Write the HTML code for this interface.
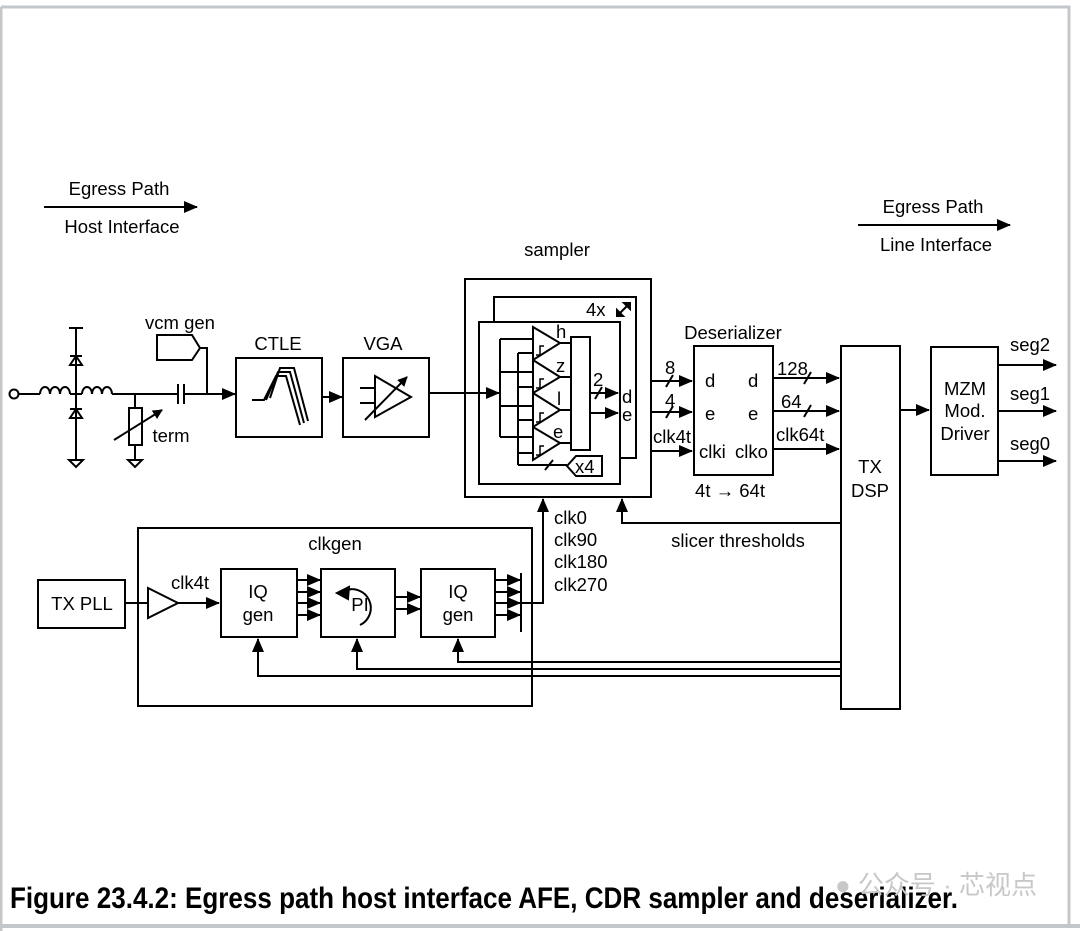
<!DOCTYPE html>
<html><head><meta charset="utf-8"><style>
html,body{margin:0;padding:0;background:#fff;}
svg{display:block;font-family:"Liberation Sans",Arial,sans-serif;}
</style></head><body>
<svg width="1080" height="931" viewBox="0 0 1080 931" xmlns="http://www.w3.org/2000/svg">
<defs>
<marker id="a" markerWidth="10" markerHeight="10" refX="9" refY="5" orient="auto" markerUnits="userSpaceOnUse"><path d="M0,0 L10,5 L0,10 z" fill="#000"/></marker>
<marker id="b" markerWidth="14" markerHeight="12" refX="13" refY="6" orient="auto" markerUnits="userSpaceOnUse"><path d="M0,0 L14,6 L0,12 z" fill="#000"/></marker>
</defs>
<rect x="0" y="0" width="1080" height="931" fill="#fff"/>
<path d="M1,7 H1069 V925" fill="none" stroke="#c4c7ca" stroke-width="3"/>
<line x1="1" y1="7" x2="1" y2="931" stroke="#c4c7ca" stroke-width="3"/>
<line x1="0" y1="926" x2="1080" y2="926" stroke="#c4c7ca" stroke-width="4"/>

<g font-size="18.5" fill="#000" text-anchor="middle">
<text x="119" y="195">Egress Path</text>
<text x="122" y="233">Host Interface</text>
<text x="933" y="213">Egress Path</text>
<text x="936" y="251">Line Interface</text>
<text x="557" y="256">sampler</text>
<text x="180" y="329">vcm gen</text>
<text x="278" y="350">CTLE</text>
<text x="383" y="350">VGA</text>
<text x="171" y="442">term</text>
<text x="733" y="339">Deserializer</text>
<text x="730" y="497">4t → 64t</text>
<text x="870" y="473">TX</text>
<text x="870" y="497">DSP</text>
<text x="965" y="395">MZM</text>
<text x="965" y="417">Mod.</text>
<text x="965" y="440">Driver</text>
<text x="1030" y="351">seg2</text>
<text x="1030" y="400">seg1</text>
<text x="1030" y="450">seg0</text>
<text x="738" y="547">slicer thresholds</text>
<text x="335" y="550">clkgen</text>
<text x="82" y="610">TX PLL</text>
<text x="190" y="589">clk4t</text>
<text x="258" y="598">IQ</text><text x="258" y="621">gen</text>
<text x="458" y="598">IQ</text><text x="458" y="621">gen</text>
<text x="360" y="611">PI</text>
</g>
<g font-size="18.5" fill="#000">
<text x="554" y="524">clk0</text>
<text x="554" y="546">clk90</text>
<text x="554" y="568">clk180</text>
<text x="554" y="591">clk270</text>
<text x="705" y="387">d</text><text x="748" y="387">d</text>
<text x="705" y="420">e</text><text x="748" y="420">e</text>
<text x="699" y="458">clki</text><text x="735" y="458">clko</text>
<text x="665" y="374">8</text>
<text x="665" y="407">4</text>
<text x="653" y="443">clk4t</text>
<text x="777" y="375">128</text>
<text x="781" y="408">64</text>
<text x="776" y="441">clk64t</text>
<text x="622" y="403">d</text>
<text x="622" y="421">e</text>
<text x="593" y="386">2</text>
<text x="586" y="316">4x</text>
<text x="556" y="338">h</text>
<text x="556" y="372">z</text>
<text x="557" y="405">l</text>
<text x="553" y="438">e</text>
<text x="575" y="473">x4</text>
</g>

<g fill="none" stroke="#000" stroke-width="2">
<line x1="44" y1="207" x2="197" y2="207" marker-end="url(#b)"/>
<line x1="858" y1="225" x2="1010" y2="225" marker-end="url(#b)"/>
<circle cx="14" cy="394" r="4.5"/>
<line x1="19" y1="394" x2="40" y2="394"/>
<path d="M40,394 a5,7 0 1 1 10,0 a5,7 0 1 1 10,0 a5,7 0 1 1 10,0"/>
<line x1="70" y1="394" x2="82" y2="394"/>
<path d="M82,394 a5,7 0 1 1 10,0 a5,7 0 1 1 10,0 a5,7 0 1 1 10,0"/>
<line x1="112" y1="394" x2="178" y2="394"/>
<line x1="76" y1="328" x2="76" y2="460"/>
<line x1="69" y1="328" x2="83" y2="328"/>
<path d="M70,365 L82,365 L76,356 z M70,356 H82"/>
<path d="M70,418 L82,418 L76,409 z M70,409 H82"/>
<path d="M69,460 H83 L76,467 z"/>
<line x1="135" y1="394" x2="135" y2="408"/>
<rect x="129" y="408" width="13" height="37"/>
<line x1="135" y1="445" x2="135" y2="460"/>
<path d="M128,460 H142 L135,467 z"/>
<line x1="114" y1="440" x2="162" y2="410" marker-end="url(#a)"/>
<line x1="178" y1="384" x2="178" y2="404"/><line x1="184" y1="384" x2="184" y2="404"/>
<line x1="184" y1="394" x2="235" y2="394" marker-end="url(#b)"/>
<path d="M157,335 H192 L200,348 L192,360 H157 z"/>
<path d="M200,348 H207 V394"/>
<rect x="236" y="358" width="86" height="79"/>
<path d="M252,400 H264 L276,376 H286 L300,425 M266,400 L278,372 H290 L304,423 M270,398 L280,368 H294 L308,421"/>
<line x1="322" y1="397" x2="342" y2="397" marker-end="url(#b)"/>
<rect x="343" y="358" width="86" height="79"/>
<path d="M375,376 L411,397 L375,417 z"/>
<path d="M360,388 H375 M360,403 H375"/>
<line x1="365" y1="420" x2="407" y2="377" marker-end="url(#a)"/>
<line x1="429" y1="393" x2="499" y2="393" marker-end="url(#b)"/>
<rect x="465" y="279" width="186" height="218"/>
<path d="M494,322 V297 H636 V458 H620"/>
<rect x="479" y="322" width="141" height="162"/>
<line x1="617" y1="316" x2="630" y2="303"/><path d="M630,303 l-6,0 l6,6 z M617,316 l6,0 l-6,-6 z" fill="#000"/>
<path d="M500,339 V437 M518,353 V465"/>
<path d="M500,339 H533 M518,353 H533 M500,372 H533 M518,387 H533 M500,406 H533 M518,420 H533 M500,437 H533 M518,453 H533"/>
<path d="M533,327 L560,343 L533,360 z M533,360 L560,377 L533,393 z M533,393 L560,410 L533,427 z M533,427 L560,443 L533,460 z" fill="#fff"/>
<path d="M536,355 h4 v-9 h4 M536,388 h4 v-9 h4 M536,422 h4 v-9 h4 M536,455 h4 v-9 h4" stroke-width="1.5"/>
<path d="M560,343 H571 M560,377 H571 M560,410 H571 M560,443 H571"/>
<rect x="571" y="337" width="19" height="113"/>
<path d="M518,465 H567"/>
<line x1="545" y1="470" x2="553" y2="460"/>
<path d="M567,466 L576,456 H602 V476 H576 z"/>
<line x1="590" y1="393" x2="618" y2="393" marker-end="url(#b)"/>
<line x1="595" y1="399" x2="602" y2="387"/>
<line x1="590" y1="413" x2="618" y2="413" marker-end="url(#b)"/>
<line x1="651" y1="381" x2="692" y2="381" marker-end="url(#b)"/>
<line x1="666" y1="387" x2="673" y2="375"/>
<line x1="651" y1="412" x2="692" y2="412" marker-end="url(#b)"/>
<line x1="666" y1="418" x2="673" y2="406"/>
<line x1="651" y1="451" x2="692" y2="451" marker-end="url(#b)"/>
<rect x="694" y="346" width="79" height="129"/>
<line x1="773" y1="378" x2="839" y2="378" marker-end="url(#b)"/>
<line x1="804" y1="384" x2="811" y2="372"/>
<line x1="773" y1="411" x2="839" y2="411" marker-end="url(#b)"/>
<line x1="804" y1="417" x2="811" y2="405"/>
<line x1="773" y1="449" x2="839" y2="449" marker-end="url(#b)"/>
<rect x="841" y="346" width="59" height="363"/>
<line x1="900" y1="410" x2="929" y2="410" marker-end="url(#b)"/>
<rect x="931" y="347" width="67" height="128"/>
<line x1="998" y1="365" x2="1056" y2="365" marker-end="url(#b)"/>
<line x1="998" y1="411" x2="1056" y2="411" marker-end="url(#b)"/>
<line x1="998" y1="461" x2="1056" y2="461" marker-end="url(#b)"/>
<path d="M841,523 H622 V499" marker-end="url(#b)"/>
<rect x="138" y="528" width="394" height="178"/>
<rect x="38" y="580" width="87" height="48"/>
<line x1="125" y1="603" x2="148" y2="603"/>
<path d="M148,588 L178,603 L148,618 z"/>
<line x1="178" y1="603" x2="219" y2="603" marker-end="url(#b)"/>
<rect x="221" y="569" width="76" height="68"/>
<rect x="321" y="569" width="74" height="68"/>
<rect x="421" y="569" width="74" height="68"/>
<line x1="297" y1="580" x2="320" y2="580" marker-end="url(#b)"/>
<line x1="297" y1="592" x2="320" y2="592" marker-end="url(#b)"/>
<line x1="297" y1="603" x2="320" y2="603" marker-end="url(#b)"/>
<line x1="297" y1="615" x2="320" y2="615" marker-end="url(#b)"/>
<line x1="395" y1="597" x2="420" y2="597" marker-end="url(#b)"/>
<line x1="395" y1="609" x2="420" y2="609" marker-end="url(#b)"/>
<line x1="495" y1="580" x2="520" y2="580" marker-end="url(#b)"/>
<line x1="495" y1="592" x2="520" y2="592" marker-end="url(#b)"/>
<line x1="495" y1="603" x2="520" y2="603" marker-end="url(#b)"/>
<line x1="495" y1="615" x2="520" y2="615" marker-end="url(#b)"/>
<line x1="521" y1="573" x2="521" y2="632"/>
<path d="M521,603 H543 V499" marker-end="url(#b)"/>
<path d="M360,625 A17,17 0 1 0 344,591"/>
<path d="M337,593 l12,-6 l-1,12 z" fill="#000"/>
<path d="M841,662 H458 V639" marker-end="url(#b)"/>
<path d="M841,669 H357 V639" marker-end="url(#b)"/>
<path d="M841,676 H258 V639" marker-end="url(#b)"/>
</g>

<text x="10" y="908" font-size="30" font-weight="bold" fill="#000" transform="translate(10,0) scale(0.868,1) translate(-10,0)" style="font-family:'Liberation Sans Narrow','Liberation Sans',sans-serif">Figure 23.4.2: Egress path host interface AFE, CDR sampler and deserializer.</text>
<text x="835" y="894" font-size="26" fill="#c8c8c8" style="font-family:'Liberation Sans','Noto Sans CJK SC',sans-serif">● 公众号 · 芯视点</text>
</svg>
</body></html>
